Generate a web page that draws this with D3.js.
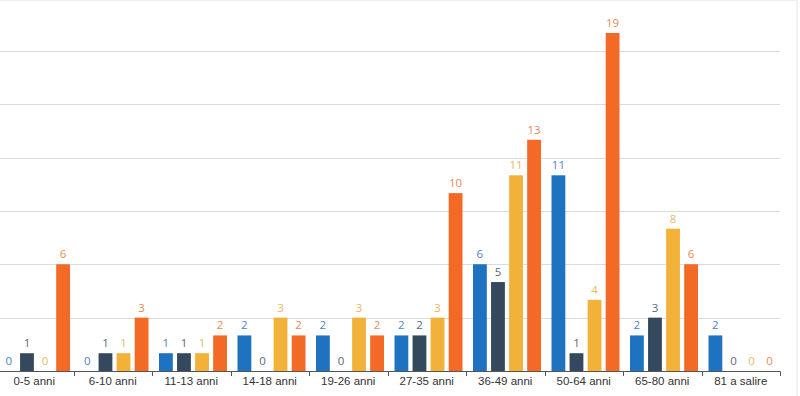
<!DOCTYPE html>
<html>
<head>
<meta charset="utf-8">
<script src="https://d3js.org/d3.v7.min.js"></script>
<style>
html, body { margin: 0; padding: 0; background: #fff; }
body { font-family: 'Open Sans', sans-serif; }
.grid line { stroke: #dcdcdc; stroke-width: 1; }
.xaxis path, .xaxis line { stroke: #555; }
.xaxis text { fill: #333; font-size: 11.5px; }
.val { font-size: 11.5px; text-anchor: middle; }
</style>
</head>
<body>
<script>
// categories and series
var categories = ["0-5 anni", "6-10 anni", "11-13 anni", "14-18 anni", "19-26 anni",
  "27-35 anni", "36-49 anni", "50-64 anni", "65-80 anni", "81 a salire"];
var seriesNames = ["s1", "s2", "s3", "s4"];
var s1 = [0, 0, 1, 2, 2, 2, 6, 11, 2, 2];
var s2 = [1, 1, 1, 0, 0, 2, 5, 1, 3, 0];
var s3 = [0, 1, 1, 3, 3, 3, 11, 4, 8, 0];
var s4 = [6, 3, 2, 2, 2, 10, 13, 19, 6, 0];
var gridTicks = [3, 6, 9, 12, 15, 18];

var barColors = ["#1f72bf", "#34495e", "#f2b138", "#f26a26"];
var labelColors = ["#4d86c4", "#5a6878", "#eab865", "#e68a58"];

var width = 800, height = 396;
var series = [s1, s2, s3, s4];

var svg = d3.select("body").append("svg")
    .attr("width", width)
    .attr("height", height);

// panel border on the right and top
svg.append("line").attr("x1", 797).attr("x2", 797).attr("y1", 0).attr("y2", height)
    .attr("stroke", "#e6e6e6");
svg.append("line").attr("x1", 0).attr("x2", 797).attr("y1", 0.5).attr("y2", 0.5)
    .attr("stroke", "#eeeeee");

var x = d3.scaleBand()
    .domain(categories)
    .range([-5, 780])
    .paddingInner(0)
    .paddingOuter(0);

var x1 = d3.scaleBand()
    .domain(seriesNames)
    .range([7, x.bandwidth() - 3.5])
    .paddingInner(0.235)
    .paddingOuter(0);

var y = d3.scaleLinear()
    .domain([0, 19])
    .range([371, 33]);

// grid lines
svg.append("g").attr("class", "grid")
    .selectAll("line")
    .data(gridTicks)
    .enter().append("line")
    .attr("x1", 0).attr("x2", 780)
    .attr("y1", function(d) { return Math.round(y(d)) + 0.5; })
    .attr("y2", function(d) { return Math.round(y(d)) + 0.5; });

// bars
var groups = svg.selectAll(".grp")
    .data(categories)
    .enter().append("g")
    .attr("class", "grp")
    .attr("transform", function(d) { return "translate(" + x(d) + ",0)"; });

groups.each(function(cat, i) {
    var g = d3.select(this);
    var vals = series.map(function(s, k) { return { k: k, v: s[i] }; });
    g.selectAll("rect")
        .data(vals)
        .enter().append("rect")
        .attr("x", function(d) { return x1(seriesNames[d.k]); })
        .attr("width", x1.bandwidth())
        .attr("y", function(d) { return y(d.v); })
        .attr("height", function(d) { return y(0) - y(d.v); })
        .attr("fill", function(d) { return barColors[d.k]; });
    g.selectAll("text")
        .data(vals)
        .enter().append("text")
        .attr("class", "val")
        .attr("x", function(d) { return x1(seriesNames[d.k]) + x1.bandwidth() / 2; })
        .attr("y", function(d) { return y(d.v) - 6; })
        .attr("fill", function(d) { return labelColors[d.k]; })
        .text(function(d) { return d.v; });
});

// x axis
var xAxis = d3.axisBottom(x).tickSize(0).tickPadding(6);
var ax = svg.append("g")
    .attr("class", "xaxis")
    .attr("transform", "translate(0," + y(0) + ")")
    .call(xAxis);
ax.select(".domain").attr("d", "M0,0.5H780.5V5");

// tick marks between categories
ax.selectAll(".sep")
    .data(categories.slice(1))
    .enter().append("line")
    .attr("class", "sep")
    .attr("x1", function(d) { return Math.round(x(d)) + 0.5; })
    .attr("x2", function(d) { return Math.round(x(d)) + 0.5; })
    .attr("y1", 0).attr("y2", 5);
</script>
</body>
</html>
